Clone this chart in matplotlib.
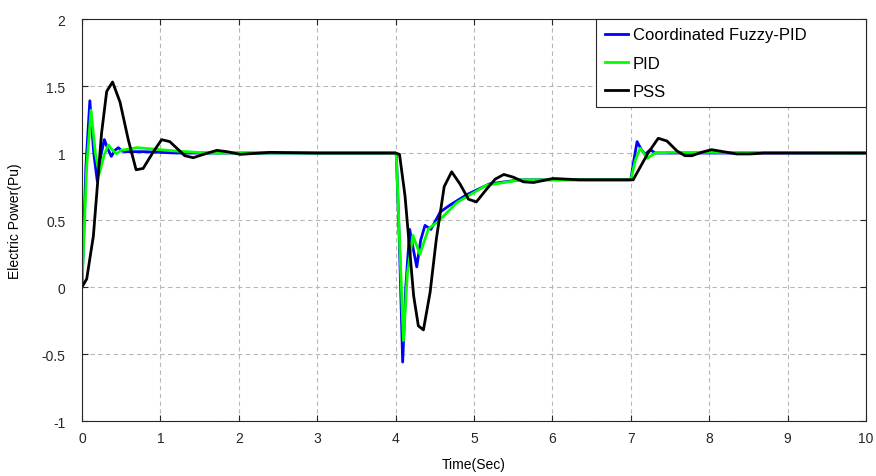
import matplotlib
matplotlib.use("Agg")
import matplotlib.pyplot as plt

plt.rcParams["font.family"] = ["Liberation Sans", "DejaVu Sans"]

# Coordinated Fuzzy-PID
t_fuzzy = [0, 0.05, 0.10, 0.15, 0.195, 0.24, 0.285, 0.33, 0.374, 0.42, 0.463,
           0.51, 0.55, 0.8, 1.2, 4.0, 4.01, 4.05, 4.09, 4.13, 4.18, 4.22, 4.27,
           4.32, 4.375, 4.45, 4.57, 4.69, 4.91, 5.2, 5.59, 6.0, 7.0, 7.04, 7.08,
           7.13, 7.18, 7.25, 7.31, 10]
p_fuzzy = [0, 0.9, 1.39, 1.0, 0.79, 0.98, 1.10, 1.03, 0.975, 1.02, 1.04,
           1.015, 1.01, 1.01, 1.0, 1.0, 0.98, 0.3, -0.56, 0.0, 0.43, 0.3, 0.15,
           0.35, 0.46, 0.43, 0.56, 0.61, 0.69, 0.77, 0.80, 0.80, 0.80, 0.95, 1.085,
           1.03, 0.99, 1.025, 1.0, 1.0]

# PID
t_pid = [0, 0.06, 0.115, 0.17, 0.22, 0.28, 0.336, 0.39, 0.44, 0.5, 0.7, 0.9,
         1.2, 1.6, 4.0, 4.01, 4.06, 4.10, 4.15, 4.22, 4.31, 4.42, 4.545, 4.78,
         5.16, 5.6, 7.0, 7.06, 7.12, 7.21, 7.31, 7.5, 8.0, 10]
p_pid = [0, 0.9, 1.32, 1.0, 0.845, 0.98, 1.06, 1.02, 0.995, 1.02, 1.04, 1.03,
         1.015, 1.0, 1.0, 0.97, 0.2, -0.40, 0.1, 0.385, 0.245, 0.435, 0.49, 0.63,
         0.76, 0.80, 0.80, 0.95, 1.035, 0.96, 1.0, 1.005, 1.005, 1.0]

# PSS
t_pss = [0, 0.06, 0.145, 0.25, 0.315, 0.39, 0.485, 0.59, 0.69, 0.78, 0.9,
         1.016, 1.12, 1.22, 1.31, 1.42, 1.55, 1.72, 1.85, 2.02, 2.4, 3.0, 4.0,
         4.05, 4.12, 4.23, 4.29, 4.355, 4.44, 4.52, 4.62, 4.715, 4.82, 4.93,
         5.03, 5.16, 5.27, 5.38, 5.50, 5.63, 5.76, 6.01, 6.35, 7.0, 7.03, 7.12,
         7.22, 7.35, 7.46, 7.59, 7.69, 7.78, 7.9, 8.03, 8.18, 8.35, 8.52, 8.7, 10]
p_pss = [0, 0.06, 0.38, 1.15, 1.46, 1.53, 1.38, 1.10, 0.875, 0.885, 1.0,
         1.10, 1.085, 1.03, 0.98, 0.965, 0.99, 1.02, 1.01, 0.99, 1.005, 1.0, 1.0,
         0.99, 0.68, -0.065, -0.29, -0.32, -0.04, 0.36, 0.75, 0.86, 0.77, 0.655,
         0.635, 0.73, 0.805, 0.84, 0.82, 0.785, 0.78, 0.81, 0.80, 0.80, 0.80, 0.895,
         1.0, 1.11, 1.09, 1.015, 0.98, 0.98, 1.005, 1.025, 1.01, 0.993, 0.993, 1.0, 1.0]

x_ticks = list(range(0, 11))
y_ticks = [-1, -0.5, 0, 0.5, 1, 1.5, 2]
y_labels = ["-1", "-0.5", "0", "0.5", "1", "1.5", "2"]

fig = plt.figure(figsize=(8.76, 4.77), dpi=100)
ax = fig.add_axes([0.0936, 0.1153, 0.895, 0.8427])

ax.plot(t_fuzzy, p_fuzzy, color="#0000ff", lw=2, label="Coordinated Fuzzy-PID")
ax.plot(t_pid, p_pid, color="#00ff00", lw=2, label="PID")
ax.plot(t_pss, p_pss, color="black", lw=2, label="PSS")

ax.set_xlim(0, 10)
ax.set_ylim(-1, 2)
ax.set_xticks(x_ticks)
ax.set_yticks(y_ticks)
ax.set_yticklabels(y_labels)
ax.tick_params(direction="in", top=True, right=True, labelsize=10, length=4,
               colors="#262626")
ax.tick_params(axis="y", pad=12)
ax.tick_params(axis="x", pad=7)
ax.grid(True, color="#b8b8b8", linestyle=(0, (4, 3)), linewidth=0.8)
for s in ax.spines.values():
    s.set_linewidth(0.8)
    s.set_color("#262626")

ax.set_xlabel("Time(Sec)", fontsize=10, labelpad=9)
ax.set_ylabel("Electric Power(Pu)", fontsize=10, labelpad=14)

leg = ax.legend(loc="upper right", bbox_to_anchor=(0.656, 0.5, 0.344, 0.5),
                mode="expand", borderaxespad=0, fontsize=12,
                handlelength=1.4, handletextpad=0.3, labelspacing=0.8,
                borderpad=0.5, fancybox=False, framealpha=1)
leg.get_frame().set_edgecolor("#262626")
leg.get_frame().set_linewidth(0.8)

fig.savefig("out.png", dpi=100)
